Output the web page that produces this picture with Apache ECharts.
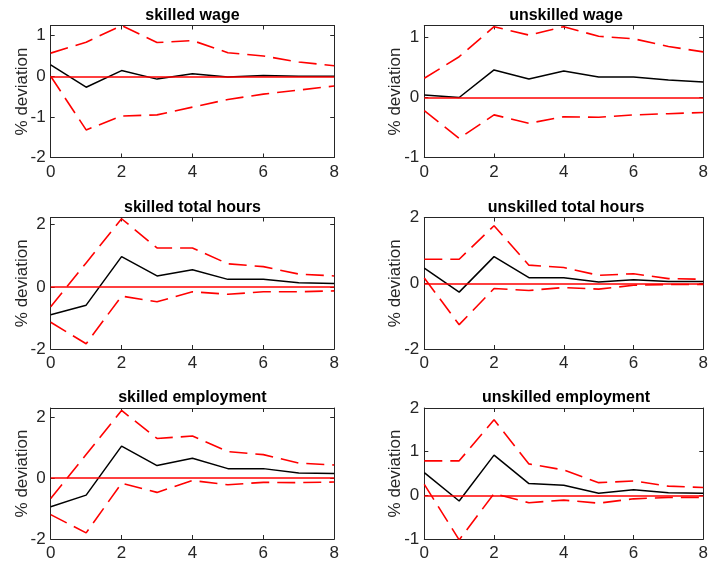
<!DOCTYPE html>
<html>
<head>
<meta charset="utf-8">
<script src="https://cdn.jsdelivr.net/npm/echarts@6/dist/echarts.min.js"></script>
<style>
  html, body { margin: 0; padding: 0; background: #fff; }
  #chart { width: 711px; height: 563px; }
</style>
</head>
<body>
<div id="chart"></div>
<script>
// Impulse responses (% deviation) over horizons 0..8, with error bands
const horizons = [0, 1, 2, 3, 4, 5, 6, 7, 8];

const skilledWageMean  = [0.28, -0.27, 0.14, -0.07, 0.06, -0.02, 0.02, 0.00, 0.00];
const skilledWageUpper = [0.57, 0.84, 1.25, 0.83, 0.88, 0.58, 0.50, 0.35, 0.26];
const skilledWageLower = [0.00, -1.32, -0.98, -0.95, -0.76, -0.57, -0.44, -0.34, -0.24];

const unskilledWageMean  = [0.04, 0.00, 0.46, 0.31, 0.44, 0.34, 0.34, 0.29, 0.26];
const unskilledWageUpper = [0.32, 0.68, 1.18, 1.04, 1.18, 1.02, 0.98, 0.85, 0.76];
const unskilledWageLower = [-0.22, -0.68, -0.29, -0.43, -0.32, -0.33, -0.29, -0.27, -0.25];

const skilledHoursMean  = [-0.90, -0.59, 0.97, 0.35, 0.55, 0.24, 0.24, 0.13, 0.11];
const skilledHoursUpper = [-0.64, 0.77, 2.19, 1.25, 1.25, 0.74, 0.65, 0.41, 0.35];
const skilledHoursLower = [-1.14, -1.83, -0.30, -0.48, -0.16, -0.24, -0.16, -0.16, -0.13];

const unskilledHoursMean  = [0.46, -0.27, 0.81, 0.17, 0.17, 0.04, 0.11, 0.05, 0.05];
const unskilledHoursUpper = [0.73, 0.73, 1.75, 0.55, 0.48, 0.24, 0.29, 0.14, 0.12];
const unskilledHoursLower = [0.16, -1.26, -0.16, -0.22, -0.13, -0.18, -0.06, -0.04, -0.04];

const skilledEmpMean  = [-0.94, -0.56, 1.05, 0.41, 0.65, 0.31, 0.31, 0.17, 0.15];
const skilledEmpUpper = [-0.67, 0.77, 2.22, 1.30, 1.38, 0.87, 0.77, 0.49, 0.43];
const skilledEmpLower = [-1.20, -1.80, -0.17, -0.47, -0.08, -0.22, -0.14, -0.15, -0.13];

const unskilledEmpMean  = [0.52, -0.13, 0.92, 0.27, 0.23, 0.05, 0.13, 0.06, 0.05];
const unskilledEmpUpper = [0.79, 0.79, 1.73, 0.72, 0.58, 0.29, 0.33, 0.21, 0.18];
const unskilledEmpLower = [0.25, -1.02, 0.04, -0.17, -0.11, -0.18, -0.08, -0.05, -0.05];

const panelTitles = [
  'skilled wage', 'unskilled wage',
  'skilled total hours', 'unskilled total hours',
  'skilled employment', 'unskilled employment'
];
const xTicks = [0, 2, 4, 6, 8];
const yTickSets = [
  [-2, -1, 0, 1], [-1, 0, 1],
  [-2, 0, 2], [-2, 0, 2],
  [-2, 0, 2], [-1, 0, 1, 2]
];
const yRanges = [
  [-2, 1.25], [-1, 1.2],
  [-2, 2.23], [-2, 2],
  [-2, 2.3], [-1, 2]
];
const yAxisName = '% deviation';

const panels = [
  [skilledWageMean, skilledWageUpper, skilledWageLower],
  [unskilledWageMean, unskilledWageUpper, unskilledWageLower],
  [skilledHoursMean, skilledHoursUpper, skilledHoursLower],
  [unskilledHoursMean, unskilledHoursUpper, unskilledHoursLower],
  [skilledEmpMean, skilledEmpUpper, skilledEmpLower],
  [unskilledEmpMean, unskilledEmpUpper, unskilledEmpLower]
];

// grid layout (px)
const colLeft = [50.7, 424.3];
const colWidth = 283.5;
const rowTop = [25.5, 217.5, 408];
const rowHeight = [132, 131.5, 131];

const FONT = '"Liberation Sans", Arial, Helvetica, sans-serif';
const AXIS_COLOR = '#262626';

const grids = [], xAxes = [], yAxes = [], series = [], titles = [];

panels.forEach((p, i) => {
  const col = i % 2, row = Math.floor(i / 2);
  const left = colLeft[col], top = rowTop[row];
  grids.push({ left: left, top: top, width: colWidth, height: rowHeight[row] });

  titles.push({
    text: panelTitles[i],
    left: left + colWidth / 2,
    top: top - 18,
    padding: 0,
    textAlign: 'center',
    textStyle: { fontFamily: FONT, fontSize: 16, fontWeight: 'bold', color: '#000' }
  });

  const axisLine = { show: true, onZero: false, lineStyle: { color: AXIS_COLOR, width: 1 } };
  const tickIn = { show: true, inside: true, length: 4, lineStyle: { color: AXIS_COLOR } };

  // bottom x axis with labels
  xAxes.push({
    gridIndex: i, type: 'value', min: 0, max: 8, interval: 2, position: 'bottom',
    axisLine: axisLine,
    axisTick: Object.assign({}, tickIn),
    axisLabel: { color: AXIS_COLOR, fontFamily: FONT, fontSize: 17, margin: 6 },
    splitLine: { show: false }
  });
  // top x axis (box edge with ticks)
  xAxes.push({
    gridIndex: i, type: 'value', min: 0, max: 8, interval: 2, position: 'top',
    axisLine: axisLine, axisTick: Object.assign({}, tickIn),
    axisLabel: { show: false }, splitLine: { show: false }
  });
  // left y axis
  const yr = yRanges[i], yt = yTickSets[i];
  yAxes.push({
    gridIndex: i, type: 'value', min: yr[0], max: yr[1], position: 'left',
    name: yAxisName, nameLocation: 'middle', nameGap: 20, nameRotate: 90,
    nameMoveOverlap: false,
    nameTextStyle: { fontFamily: FONT, fontSize: 17, color: AXIS_COLOR },
    axisLine: axisLine,
    axisTick: Object.assign({ customValues: yt }, tickIn),
    axisLabel: { customValues: yt, color: AXIS_COLOR, fontFamily: FONT, fontSize: 17, margin: 5 },
    splitLine: { show: false }
  });
  // right y axis (box edge with ticks)
  yAxes.push({
    gridIndex: i, type: 'value', min: yr[0], max: yr[1], position: 'right',
    axisLine: axisLine,
    axisTick: Object.assign({ customValues: yt }, tickIn),
    axisLabel: { show: false }, splitLine: { show: false }
  });

  const xi = i * 2, yi = i * 2;
  const toPts = arr => horizons.map((h, k) => [h, arr[k]]);

  series.push({
    type: 'line', xAxisIndex: xi, yAxisIndex: yi, data: toPts(p[0]),
    symbol: 'none', lineStyle: { color: '#000', width: 1.5 }, z: 3, silent: true,
    markLine: {
      silent: true, symbol: 'none', label: { show: false },
      lineStyle: { color: '#ff0000', width: 1.6, type: 'solid' },
      data: [{ yAxis: 0 }]
    }
  });
  [p[1], p[2]].forEach(band => {
    series.push({
      type: 'line', xAxisIndex: xi, yAxisIndex: yi, data: toPts(band),
      symbol: 'none', silent: true, z: 2,
      lineStyle: { color: '#ff0000', width: 1.6, type: [18, 8] }
    });
  });
});

const chart = echarts.init(document.getElementById('chart'), null, { renderer: 'canvas' });
chart.setOption({
  animation: false,
  backgroundColor: '#fff',
  title: titles,
  grid: grids,
  xAxis: xAxes,
  yAxis: yAxes,
  series: series
});
</script>
</body>
</html>
